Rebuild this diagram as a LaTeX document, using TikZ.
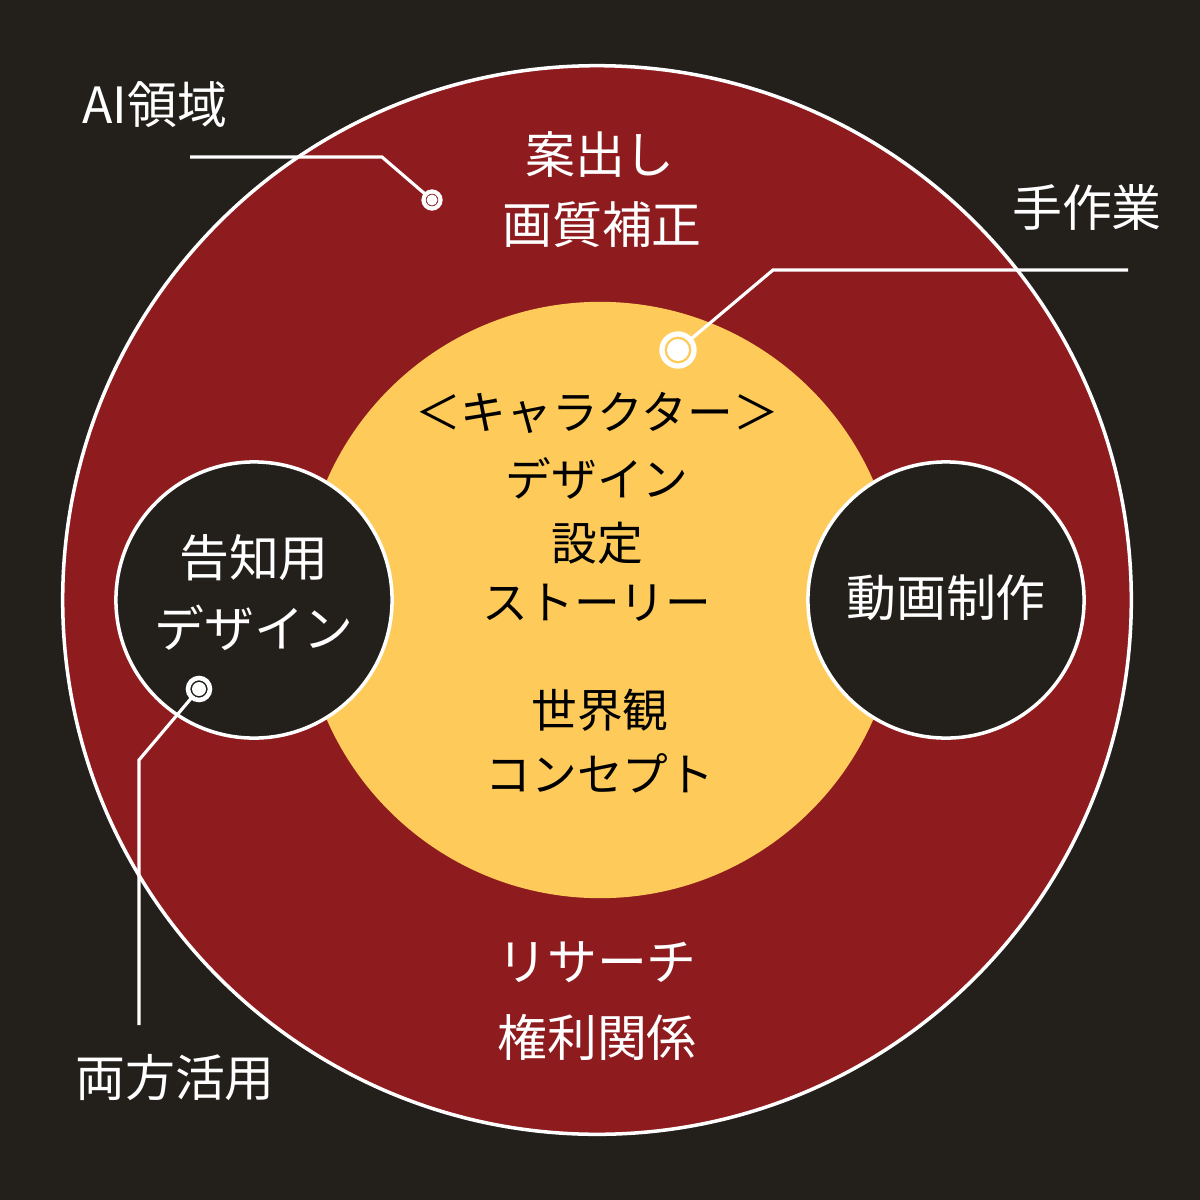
\documentclass[tikz,border=0pt]{standalone}
\usepackage{fontspec}
\setmainfont{Noto Sans CJK JP}
\definecolor{bgc}{HTML}{23201C}
\definecolor{redc}{HTML}{8E1B1E}
\definecolor{yelc}{HTML}{FECB5A}
\begin{document}
\begin{tikzpicture}[x=0.01cm,y=-0.01cm,
  lbl/.style={font=\fontsize{14.2}{19}\selectfont,align=center,inner sep=0pt},
  cl/.style={lbl,font=\fontsize{13}{17}\selectfont},
  wl/.style={lbl,text=white},
  wline/.style={white,line width=0.9pt},
  ring/.style={circle,inner sep=0pt,outer sep=0pt}]
\fill[bgc] (0,0) rectangle (1200,1200);
\useasboundingbox (0,0) rectangle (1200,1200);
\node[ring,draw=white,line width=1pt,fill=redc,minimum size=10.68cm] (big) at (597,600) {};
\node[ring,fill=yelc,minimum size=5.96cm] (core) at (600,600) {};
\node[ring,draw=white,line width=1pt,fill=bgc,minimum size=2.76cm] (lc) at (254,600) {};
\node[ring,draw=white,line width=1pt,fill=bgc,minimum size=2.76cm] (rc) at (946,600) {};
% labels
\node[wl] (ai) at (155,105) {AI領域};
\node[wl] (a1) at (600,155) {案出し};
\node[wl] (a2) at (602,225) {画質補正};
\node[wl] (hand) at (1087,207) {手作業};
\node[cl] (c1) at (597,413) {＜キャラクター＞};
\node[cl] (c2) at (597,478) {デザイン};
\node[cl] (c3) at (597,543) {設定};
\node[cl] (c4) at (597,603) {ストーリー};
\node[cl] (c5) at (600,710) {世界観};
\node[cl] (c6) at (600,773) {コンセプト};
\node[wl] (l1) at (254,558) {告知用};
\node[wl] (l2) at (254,628) {デザイン};
\node[wl] (r1) at (946,598) {動画制作};
\node[wl] (b1) at (597,962) {リサーチ};
\node[wl] (b2) at (597,1037) {権利関係};
\node[wl] (both) at (175,1078) {両方活用};
% markers
\node[ring,draw=white,line width=1.2pt,minimum size=0.17cm] (m1) at (432,200) {};
\fill[white] (m1) circle (5.5);
\node[ring,draw=white,line width=1.5pt,minimum size=0.32cm] (m2) at (678,350) {};
\fill[white] (m2) circle (11);
\node[ring,draw=white,line width=1.3pt,minimum size=0.22cm] (m3) at (199,689) {};
\fill[white] (m3) circle (7);
\coordinate (p1) at (190,157);
\coordinate (p2) at (1128,270);
\coordinate (p3) at (139,1025);
\draw[wline] (p1) -- (382,157) -- (m1);
\draw[wline] (p2) -- (773,270) -- (m2);
\draw[wline] (p3) -- (139,760) -- (m3);
\end{tikzpicture}
\end{document}
